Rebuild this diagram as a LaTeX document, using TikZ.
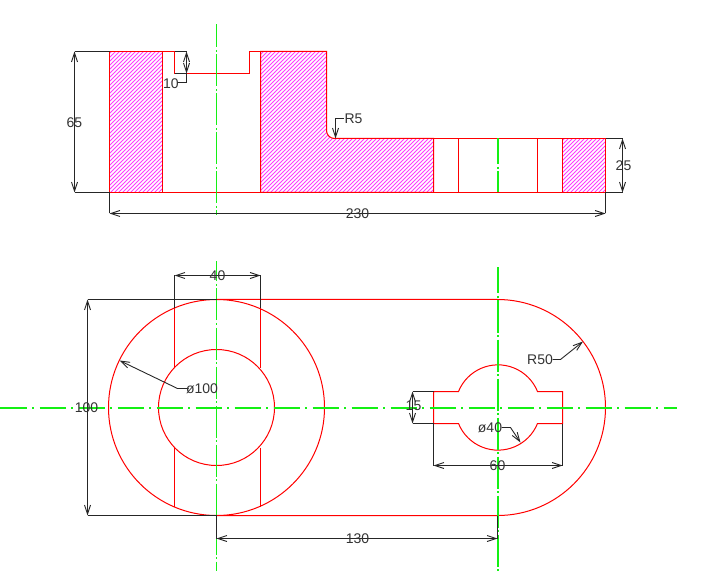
\documentclass[tikz,border=0pt]{standalone}
\usepackage{fontspec}
\setmainfont{Liberation Sans}
\usetikzlibrary{arrows.meta, patterns.meta}
\definecolor{hatchpink}{RGB}{255,60,255}
\definecolor{centregreen}{RGB}{20,240,20}
\tikzset{
x=1pt, y=1pt,
>={Straight Barb[length=9pt,width=6pt]}, % narrow open heads of the dimensions
outline/.style={red, line width=1pt},
hatched/.style={outline, pattern={Lines[angle=45,distance=2.8284pt,line width=0.85pt]}, pattern color=hatchpink},
dimline/.style={black!85, line width=0.9pt},
centerh/.style={centregreen, line width=1.2pt, dash pattern=on 26pt off 5.5pt on 2pt off 5.5pt},
centerv/.style={centregreen, line width=1.2pt, dash pattern=on 32pt off 2.5pt on 2pt off 2.5pt},
dimtext/.style={black!80, font=\fontsize{14}{14}\selectfont, inner sep=0pt},
}
\begin{document}
\begin{tikzpicture}
\useasboundingbox (-0.5,0.5) rectangle (727.5,571.5);
% section, hatching
\draw[hatched] (109,520) rectangle (162,379);
\draw[hatched] (260,520) -- (326,520) -- (326,441) arc[start angle=180, end angle=270, radius=8pt] -- (433,433) -- (433,379) -- (260,379) -- cycle;
\draw[hatched] (562,433) rectangle (605,379);
% section, rest of the outline
\draw[outline] (162,520) -- (174,520) -- (174,498) -- (249,498) -- (249,520) -- (260,520);
\draw[outline] (162,379) -- (260,379);
\draw[outline] (433,433) -- (562,433);
\draw[outline] (433,379) -- (562,379);
\draw[outline] (458,433) -- (458,379);
\draw[outline] (537,433) -- (537,379);
% plan
\coordinate (bigc) at (216,164);
\coordinate (endc) at (497,164);
\draw[outline] (bigc) circle[radius=108pt];
\draw[outline] (bigc) circle[radius=58pt];
\draw[outline] (216,272) -- (497,272) arc[start angle=90, end angle=-90, radius=108pt] -- (216,56);
\draw[outline] (174,263.5) -- (174,204);
\draw[outline] (260,263.5) -- (260,204);
\draw[outline] (174,124) -- (174,64.5);
\draw[outline] (260,124) -- (260,64.5);
\draw[outline] (433,180) -- (458,180) arc[start angle=158, end angle=22, radius=42.6pt] -- (562,180) -- (562,148) -- (537,148) arc[start angle=-22, end angle=-158, radius=42.6pt] -- (433,148) -- cycle;
% centre lines
\coordinate (ca1) at (216,547);
\coordinate (ca2) at (216,356);
\coordinate (cb1) at (216,310);
\coordinate (cb2) at (216,0.5);
\coordinate (cc1) at (497.5,304);
\coordinate (cc2) at (497.5,0.5);
\coordinate (cd1) at (497.5,433);
\coordinate (cd2) at (497.5,379);
\coordinate (ce1) at (0,163.5);
\coordinate (ce2) at (676,163.5);
\draw[centerv, dash phase=9pt] (ca1) -- (ca2);
\draw[centerv, dash phase=12pt] (cb1) -- (cb2);
\draw[centerv, dash phase=6pt] (cc1) -- (cc2);
\draw[centerv, dash phase=6pt] (cd1) -- (cd2);
\draw[centerh] (ce1) -- (ce2);
% dimension end points
\coordinate (h65a) at (109,520);
\coordinate (h65b) at (74,520);
\coordinate (l65a) at (109,379);
\coordinate (l65b) at (74,379);
\coordinate (h10a) at (174,520);
\coordinate (h10b) at (186,520);
\coordinate (l10a) at (174,498);
\coordinate (l10b) at (186,498);
\coordinate (k10a) at (186,489);
\coordinate (k10b) at (176,489);
\coordinate (a230) at (109,358);
\coordinate (b230) at (605,358);
\coordinate (p230) at (109,379);
\coordinate (q230) at (605,379);
\coordinate (h25a) at (605,433);
\coordinate (h25b) at (622,433);
\coordinate (l25a) at (605,379);
\coordinate (l25b) at (622,379);
\coordinate (r5a) at (343,453);
\coordinate (r5b) at (335,453);
\coordinate (r5c) at (335,433);
\coordinate (a40) at (174,296);
\coordinate (b40) at (260,296);
\coordinate (p40) at (174,263.5);
\coordinate (q40) at (260,263.5);
\coordinate (h100a) at (216,272);
\coordinate (h100b) at (87,272);
\coordinate (l100a) at (216,56);
\coordinate (l100b) at (87,56);
\coordinate (d100a) at (188,183);
\coordinate (d100b) at (177,183);
\coordinate (d100c) at (119,211);
\coordinate (h15a) at (433,180);
\coordinate (h15b) at (412,180);
\coordinate (l15a) at (433,148);
\coordinate (l15b) at (412,148);
\coordinate (d40a) at (501,144);
\coordinate (d40b) at (510,144);
\coordinate (d40c) at (520,129);
\coordinate (a60) at (433,106);
\coordinate (b60) at (562,106);
\coordinate (p60) at (433,148);
\coordinate (q60) at (562,148);
\coordinate (r50a) at (552,212);
\coordinate (r50b) at (560,212);
\coordinate (r50c) at (582.5,230);
\coordinate (a130) at (216,33);
\coordinate (b130) at (497,33);
\coordinate (p130) at (216,56);
\coordinate (q130) at (497,56);
% dimensions
\draw[dimline] (h65a) -- (h65b);
\draw[dimline] (l65a) -- (l65b);
\draw[dimline, <->] (h65b) -- (l65b);
\draw[dimline] (h10a) -- (h10b);
\draw[dimline] (l10a) -- (l10b);
\draw[dimline, <->] (h10b) -- (l10b);
\draw[dimline] (l10b) -- (k10a) -- (k10b);
\draw[dimline] (p230) -- (a230);
\draw[dimline] (q230) -- (b230);
\draw[dimline, <->] (a230) -- (b230);
\draw[dimline] (h25a) -- (h25b);
\draw[dimline] (l25a) -- (l25b);
\draw[dimline, <->] (h25b) -- (l25b);
\draw[dimline, ->] (r5a) -- (r5b) -- (r5c);
\draw[dimline] (p40) -- (a40);
\draw[dimline] (q40) -- (b40);
\draw[dimline, <->] (a40) -- (b40);
\draw[dimline] (h100a) -- (h100b);
\draw[dimline] (l100a) -- (l100b);
\draw[dimline, <->] (h100b) -- (l100b);
\draw[dimline, ->] (d100a) -- (d100b) -- (d100c);
\draw[dimline] (h15a) -- (h15b);
\draw[dimline] (l15a) -- (l15b);
\draw[dimline, <->] (h15b) -- (l15b);
\draw[dimline, ->] (d40a) -- (d40b) -- (d40c);
\draw[dimline] (p60) -- (a60);
\draw[dimline] (q60) -- (b60);
\draw[dimline, <->] (a60) -- (b60);
\draw[dimline, ->] (r50a) -- (r50b) -- (r50c);
\draw[dimline] (p130) -- (a130);
\draw[dimline] (q130) -- (b130);
\draw[dimline, <->] (a130) -- (b130);
% labels
\node[dimtext] (t65) at (74,449) {65};
\node[dimtext] (t10) at (170.5,488) {10};
\node[dimtext] (t230) at (357,358) {230};
\node[dimtext] (t25) at (623,406) {25};
\node[dimtext] (tr5) at (353,453) {R5};
\node[dimtext] (t40) at (217,296) {40};
\node[dimtext] (t100) at (86,164) {100};
\node[dimtext] (td100) at (201.5,183) {ø100};
\node[dimtext] (t15) at (413,166) {15};
\node[dimtext] (td40) at (489.5,144) {ø40};
\node[dimtext] (t60) at (497,106) {60};
\node[dimtext] (tr50) at (539.5,212) {R50};
\node[dimtext] (t130) at (357,33) {130};
\end{tikzpicture}
\end{document}
